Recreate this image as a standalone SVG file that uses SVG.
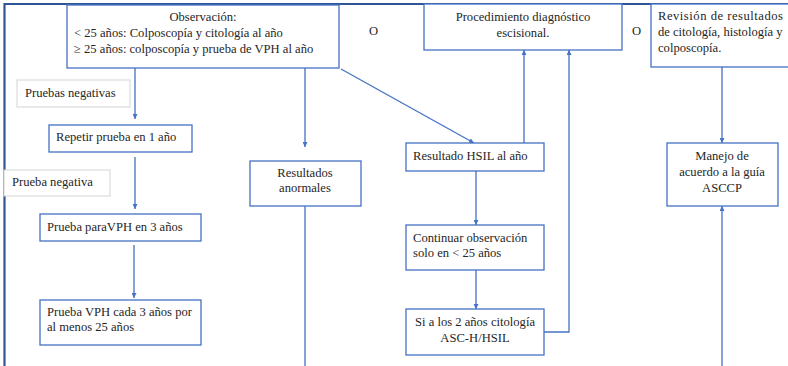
<svg xmlns="http://www.w3.org/2000/svg" width="788" height="366" viewBox="0 0 788 366">
  <style>
    .box { fill: #ffffff; stroke: #4472c4; stroke-width: 1.3; }
    .note { fill: #ffffff; stroke: #d4d4d4; stroke-width: 1; }
    .frame { fill: none; stroke: #2f5597; stroke-width: 2.2; }
    text { font-family: "Liberation Serif", "Times New Roman", serif; font-size: 12.6px; fill: #262626; }
    .c { text-anchor: middle; }
    .conn line, .conn polyline { fill: none; stroke: #4472c4; stroke-width: 1.3; }
  </style>
  <defs>
    <marker id="arr" viewBox="0 0 10 10" refX="10" refY="5" markerWidth="5" markerHeight="5" orient="auto" markerUnits="userSpaceOnUse">
      <path d="M0,0 L10,5 L0,10 z" fill="#4472c4"/>
    </marker>
  </defs>

  <rect width="788" height="366" fill="#ffffff"/>

  <!-- outer frame: top edge and left edge -->
  <path class="frame" d="M4.5,366 V4 H788"/>

  <!-- connectors -->
  <g id="connectors" class="conn">
    <line x1="135" y1="68" x2="135" y2="119" marker-end="url(#arr)"/>
    <line x1="305" y1="68" x2="305" y2="147" marker-end="url(#arr)"/>
    <line x1="341" y1="69" x2="474" y2="143" marker-end="url(#arr)"/>
    <line x1="135" y1="157" x2="135" y2="209" marker-end="url(#arr)"/>
    <line x1="134" y1="245" x2="134" y2="298" marker-end="url(#arr)"/>
    <line x1="305" y1="206" x2="305" y2="366"/>
    <line x1="524" y1="143" x2="524" y2="50" marker-end="url(#arr)"/>
    <line x1="476" y1="171" x2="476" y2="225" marker-end="url(#arr)"/>
    <line x1="476" y1="270" x2="476" y2="309" marker-end="url(#arr)"/>
    <polyline points="544,332 569,332 569,50" marker-end="url(#arr)"/>
    <line x1="722" y1="67" x2="722" y2="143" marker-end="url(#arr)"/>
    <line x1="722" y1="366" x2="722" y2="206" marker-end="url(#arr)"/>
  </g>

  <g id="observacion">
    <rect class="box" x="67" y="5" width="272" height="63"/>
    <text class="c" x="203" y="21">Observación:</text>
    <text x="74" y="37">&lt; 25 años: Colposcopía y citología al año</text>
    <text x="74" y="53">≥ 25 años: colposcopía y prueba de VPH al año</text>
  </g>

  <g id="o1">
    <text x="369" y="35">O</text>
  </g>

  <g id="procedimiento">
    <rect class="box" x="424" y="4" width="198" height="46"/>
    <text class="c" x="523" y="21">Procedimiento diagnóstico</text>
    <text class="c" x="523" y="37">escisional.</text>
  </g>

  <g id="o2">
    <text x="632" y="35">O</text>
  </g>

  <g id="revision">
    <rect class="box" x="651" y="4" width="140" height="63"/>
    <text x="658" y="20" textLength="125" lengthAdjust="spacing">Revisión de resultados</text>
    <text x="658" y="36">de citología, histología y</text>
    <text x="658" y="52">colposcopía.</text>
  </g>

  <g id="pruebas-negativas">
    <rect class="note" x="17" y="80" width="113" height="27"/>
    <text x="25" y="97">Pruebas negativas</text>
  </g>

  <g id="repetir">
    <rect class="box" x="49" y="125" width="143" height="27"/>
    <text x="56" y="141">Repetir prueba en 1 año</text>
  </g>

  <g id="prueba-negativa">
    <rect class="note" x="4" y="170" width="106" height="26"/>
    <text x="12" y="186">Prueba negativa</text>
  </g>

  <g id="prueba-vph-3">
    <rect class="box" x="40" y="214" width="161" height="27"/>
    <text x="47" y="231">Prueba paraVPH en 3 años</text>
  </g>

  <g id="prueba-vph-cada">
    <rect class="box" x="40" y="300" width="161" height="45"/>
    <text x="47" y="316">Prueba VPH cada 3 años por</text>
    <text x="47" y="331">al menos 25 años</text>
  </g>

  <g id="resultados-anormales">
    <rect class="box" x="250" y="161" width="111" height="45"/>
    <text class="c" x="305" y="177">Resultados</text>
    <text class="c" x="305" y="192">anormales</text>
  </g>

  <g id="resultado-hsil">
    <rect class="box" x="406" y="143" width="138" height="28"/>
    <text x="413" y="160">Resultado HSIL al año</text>
  </g>

  <g id="continuar">
    <rect class="box" x="406" y="225" width="138" height="45"/>
    <text x="413" y="242">Continuar observación</text>
    <text x="413" y="257">solo en &lt; 25 años</text>
  </g>

  <g id="si-2-anos">
    <rect class="box" x="406" y="309" width="138" height="46"/>
    <text class="c" x="475" y="326">Si a los 2 años citología</text>
    <text class="c" x="475" y="342">ASC-H/HSIL</text>
  </g>

  <g id="manejo">
    <rect class="box" x="667" y="143" width="111" height="63"/>
    <text class="c" x="722" y="160">Manejo de</text>
    <text class="c" x="722" y="176">acuerdo a la guía</text>
    <text class="c" x="722" y="192">ASCCP</text>
  </g>
</svg>
